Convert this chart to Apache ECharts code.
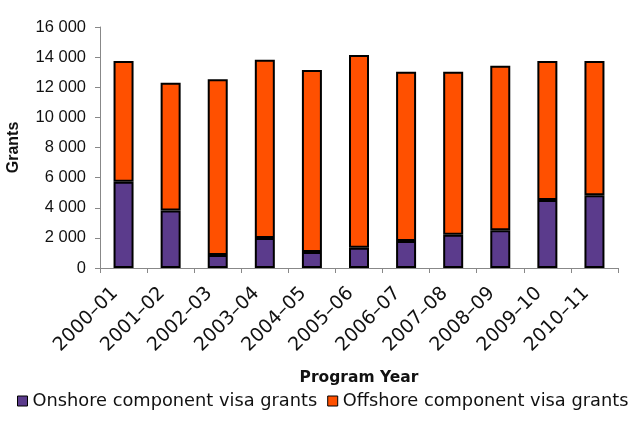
<!DOCTYPE html>
<html>
<head>
<meta charset="utf-8">
<script src="https://cdn.jsdelivr.net/npm/echarts@6/dist/echarts.min.js"></script>
<style>
html,body{margin:0;padding:0;background:#fff;}
#chart{width:640px;height:423px;}
</style>
</head>
<body>
<div id="chart"></div>
<script>
var categories = ['2000–01','2001–02','2002–03','2003–04','2004–05','2005–06','2006–07','2007–08','2008–09','2009–10','2010–11'];
var onshore = [5730, 3810, 860, 1990, 1060, 1350, 1790, 2210, 2500, 4520, 4830];
var offshore = [8020, 8490, 11670, 11840, 12090, 12790, 11240, 10820, 10930, 9230, 8920];
var yTicks = [0, 2000, 4000, 6000, 8000, 10000, 12000, 14000, 16000];
var seriesNames = ['Onshore component visa grants', 'Offshore component visa grants'];

function fmt(v){
  var s = String(v);
  return s.length > 3 ? s.slice(0, s.length - 3) + ' ' + s.slice(s.length - 3) : s;
}

var chart = echarts.init(document.getElementById('chart'), null, {renderer:'canvas'});
chart.setOption({
  animation: false,
  backgroundColor: '#fff',
  grid: {left: 100, right: 22, top: 27, bottom: 155, containLabel: false, outerBoundsMode: 'none'},
  legend: {
    bottom: 8, left: 12,
    itemWidth: 10, itemHeight: 10, itemGap: 10,
    icon: 'rect',
    textStyle: {fontFamily: 'DejaVu Sans', fontSize: 17.8, color: '#111'},
    data: [
      {name: seriesNames[0], itemStyle: {color: '#5B3B8C', borderColor: '#000', borderWidth: 1}},
      {name: seriesNames[1], itemStyle: {color: '#FF5000', borderColor: '#000', borderWidth: 1}}
    ]
  },
  xAxis: {
    type: 'category',
    data: categories,
    boundaryGap: true,
    name: 'Program Year',
    nameLocation: 'middle',
    nameGap: 102,
    nameTextStyle: {fontFamily: 'DejaVu Sans', fontWeight: 'bold', fontSize: 15.5, color: '#111'},
    axisLine: {show: true, lineStyle: {color: '#888', width: 1}},
    axisTick: {show: true, alignWithLabel: false, length: 5, inside: false, lineStyle: {color: '#888'}},
    axisLabel: {
      interval: 0, rotate: 45, margin: 14,
      padding: [0, 12, 0, 0],
      fontFamily: 'DejaVu Sans', fontSize: 19, color: '#111'
    },
    splitLine: {show: false}
  },
  yAxis: {
    type: 'value',
    min: yTicks[0], max: yTicks[yTicks.length - 1], interval: 2000,
    name: 'Grants',
    nameLocation: 'middle',
    nameRotate: 90,
    nameGap: 78,
    nameTextStyle: {fontFamily: 'Liberation Sans', fontWeight: 'bold', fontSize: 16, color: '#111'},
    axisLine: {show: true, lineStyle: {color: '#888', width: 1}},
    axisTick: {show: true, length: 5, lineStyle: {color: '#888'}},
    axisLabel: {
      margin: 14,
      fontFamily: 'Liberation Sans', fontSize: 16.5, color: '#111',
      formatter: function(v){ return fmt(v); }
    },
    splitLine: {show: false}
  },
  series: [
    {
      name: seriesNames[0], type: 'bar', stack: 'total', barWidth: 20,
      data: onshore,
      itemStyle: {color: '#5B3B8C', borderColor: '#000', borderWidth: 2}
    },
    {
      name: seriesNames[1], type: 'bar', stack: 'total', barWidth: 20,
      data: offshore,
      itemStyle: {color: '#FF5000', borderColor: '#000', borderWidth: 2}
    }
  ]
});
</script>
</body>
</html>
